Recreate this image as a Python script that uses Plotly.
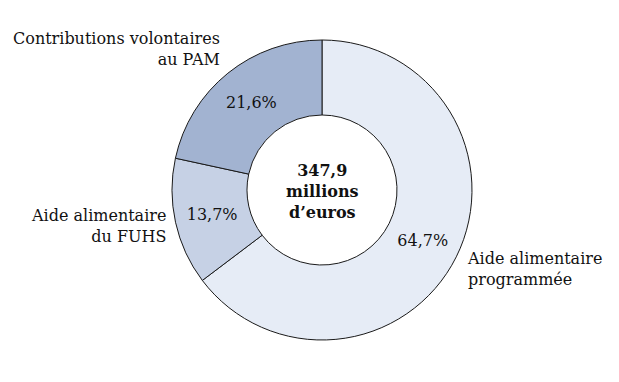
import plotly.graph_objects as go

categories = ["Aide alimentaire programmée", "Aide alimentaire du FUHS", "Contributions volontaires au PAM"]
shares = [64.7, 13.7, 21.6]
share_labels = ["64,7%", "13,7%", "21,6%"]
colors = ["#e6ecf6", "#c6d1e5", "#a2b3d1"]
total_text = "347,9<br>millions<br>d’euros"

W, H = 619, 382
FONT = "'DejaVu Serif', 'Liberation Serif', serif"
FS = 16

fig = go.Figure(go.Pie(
    labels=categories,
    values=shares,
    text=share_labels,
    texttemplate="%{text}",
    textposition="inside",
    insidetextorientation="horizontal",
    textfont=dict(family=FONT, size=FS, color="#111111"),
    sort=False,
    direction="clockwise",
    rotation=0,
    hole=0.5,
    marker=dict(colors=colors, line=dict(color="#1a1a1a", width=1)),
    showlegend=False,
    domain=dict(x=[172 / W, 472 / W], y=[1 - 340 / H, 1 - 40 / H]),
))

def px(x):
    return x / W

def py(y):
    return 1 - y / H

annots = [
    dict(x=px(222), y=py(49), text="Contributions volontaires<br>au PAM", xanchor="right", align="right"),
    dict(x=px(168), y=py(226), text="Aide alimentaire<br>du FUHS", xanchor="right", align="right"),
    dict(x=px(465), y=py(269), text="Aide alimentaire<br>programmée", xanchor="left", align="left"),
]
for a in annots:
    fig.add_annotation(xref="paper", yref="paper", yanchor="middle", showarrow=False,
                       font=dict(family=FONT, size=FS, color="#111111"), **a)

fig.add_annotation(xref="paper", yref="paper", x=px(322), y=py(191), text="<b>" + total_text + "</b>",
                   showarrow=False, xanchor="center", yanchor="middle", align="center",
                   font=dict(family=FONT, size=FS, color="#111111"))

fig.update_layout(width=W, height=H, margin=dict(l=0, r=0, t=0, b=0),
                  paper_bgcolor="white", plot_bgcolor="white")
fig.write_html("out.html")
